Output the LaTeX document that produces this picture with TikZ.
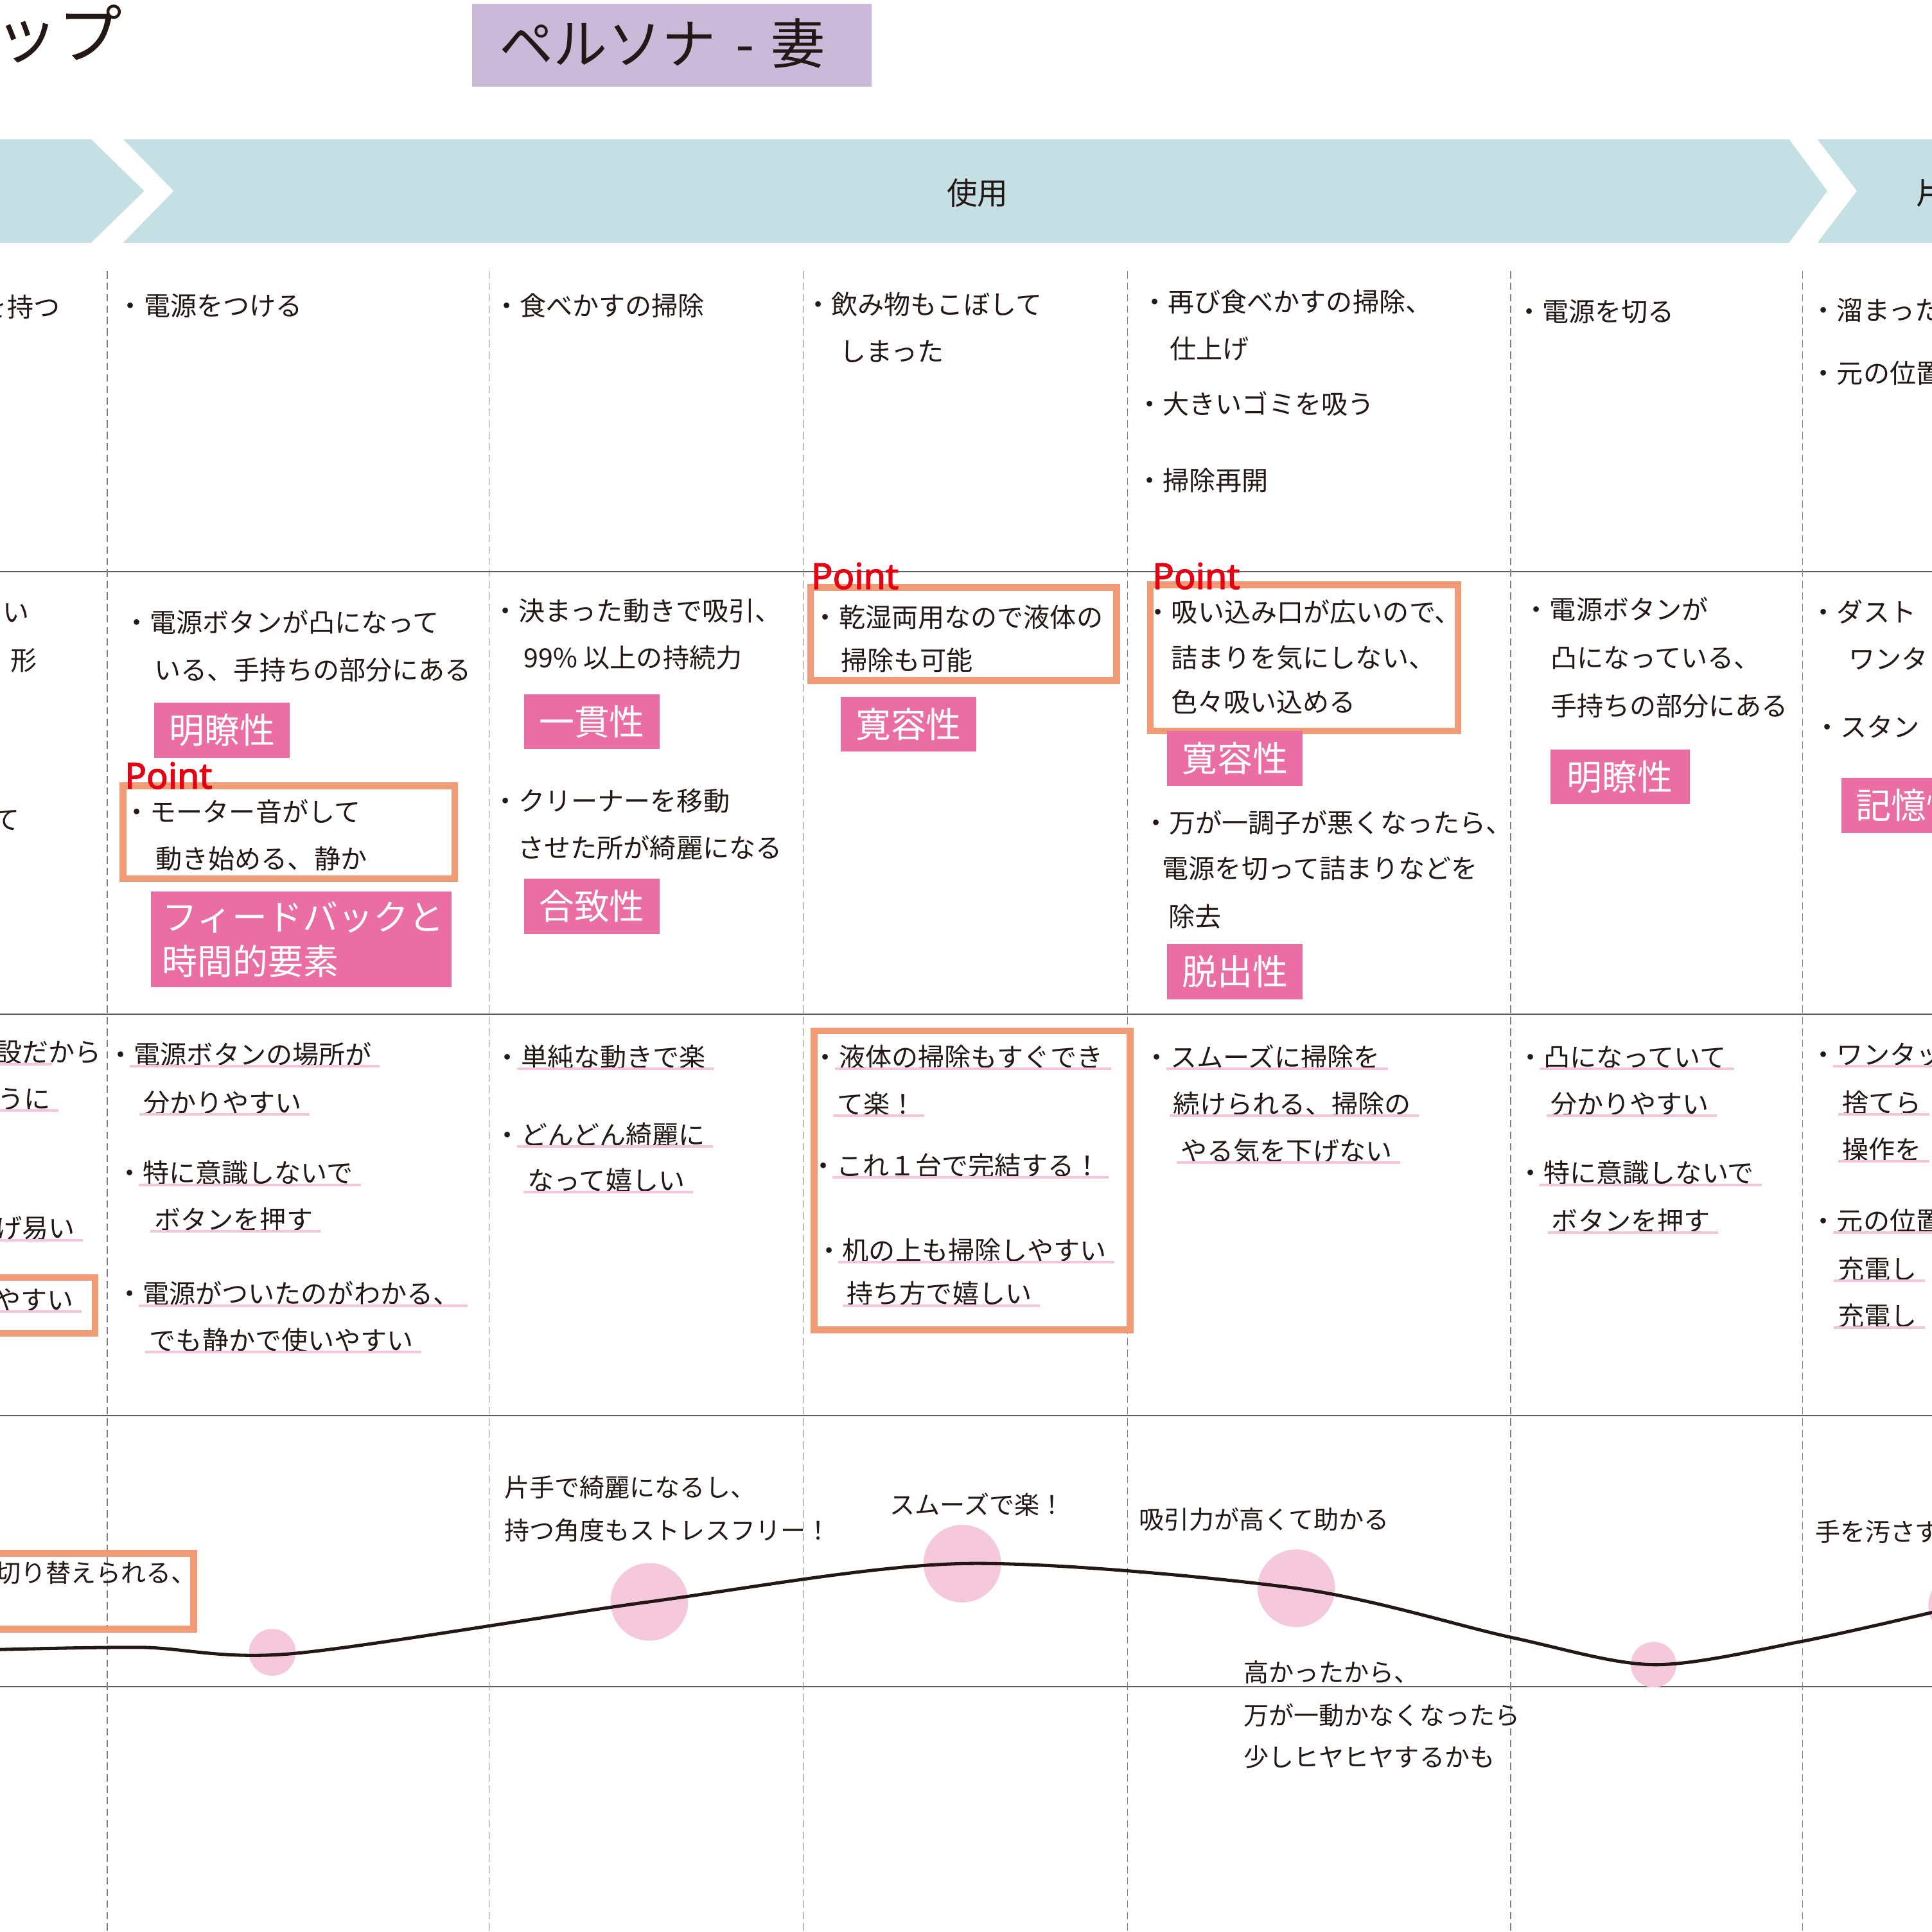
\documentclass[tikz,border=0pt]{standalone}
\usepackage{fontspec}
\setmainfont{Noto Sans CJK JP}
\newfontfamily\pointfamily{Noto Sans}[FakeBold=2.4]
\definecolor{ink}{RGB}{35,24,21}
\definecolor{bandblue}{RGB}{197,224,229}
\definecolor{personapurple}{RGB}{203,185,218}
\definecolor{tagpink}{RGB}{234,110,163}
\definecolor{ptorange}{RGB}{241,155,118}
\definecolor{ptred}{RGB}{230,0,18}
\definecolor{ulpink}{RGB}{246,196,218}
\definecolor{bubblepink}{RGB}{245,200,220}
\definecolor{gridgray}{RGB}{95,95,95}
\newcommand{\bodyfont}{\fontsize{12.2}{14}\selectfont}
\newcommand{\notefont}{\fontsize{11.6}{14}\selectfont}
\newcommand{\tagfont}{\fontsize{16.3}{20.5}\selectfont}
\newcommand{\titlefont}{\fontsize{25}{30}\selectfont}
\newcommand{\mapfont}{\fontsize{29.6}{34}\selectfont}
\newcommand{\bandfont}{\fontsize{14.2}{17}\selectfont}
\newcommand{\ptfont}{\pointfamily\fontsize{16.5}{20}\selectfont}
\tikzset{
  txt/.style={anchor=base west, inner sep=0pt, font=\bodyfont, text=ink},
  note/.style={txt, font=\notefont},
  uline/.style={draw=ulpink, line width=1.2pt},
  ul/.style={txt, append after command={([shift={(-0.06cm,-0.03cm)}]\tikzlastnode.base west) edge[uline] ([shift={(0.12cm,-0.03cm)}]\tikzlastnode.base east)}},
  ulb/.style={txt, append after command={([shift={(0.37cm,-0.03cm)}]\tikzlastnode.base west) edge[uline] ([shift={(0.12cm,-0.03cm)}]\tikzlastnode.base east)}},
  tag/.style={fill=tagpink, text=white, font=\tagfont, inner sep=0pt, minimum width=2.2cm, minimum height=0.89cm, anchor=north west},
  ptbox/.style={draw=ptorange, line width=3.1pt, anchor=north west, inner sep=0pt},
  ptlabel/.style={anchor=base west, inner sep=0pt, font=\ptfont, text=ptred},
  bubble/.style={circle, fill=bubblepink, inner sep=0pt},
  colline/.style={draw=gridgray!80, line width=0.4pt, dash pattern=on 3.4pt off 1.9pt},
  rowline/.style={draw=gridgray, line width=0.6pt},
  band/.style={fill=bandblue},
  mood/.style={draw=ink, line width=1.5pt},
}

\begin{document}
\begin{tikzpicture}[x=0.02cm, y=-0.02cm]
  \useasboundingbox (0,0) rectangle (1568,1568);
  \clip (0,0) rectangle (1568,1568);

  % title and persona
  \node[txt, font=\mapfont] (maptitle) at (-5,47) {ップ};
  \node[fill=personapurple, minimum width=6.48cm, minimum height=1.34cm, anchor=north west, inner sep=0pt] (persona) at (383,3) {};
  \node[txt, font=\titlefont] (personatext) at (405,52) {ペルソナ\hspace{0.12cm} - \hspace{0.08cm}妻};

  % phase band
  \fill[band] (-10,113) -- (74,113) -- (117,155) -- (74,197) -- (-10,197) -- cycle;
  \fill[band] (100,113) -- (1452,113) -- (1483,155) -- (1452,197) -- (100,197) -- (141,155) -- cycle;
  \fill[band] (1475,113) -- (1600,113) -- (1600,197) -- (1475,197) -- (1507,155) -- cycle;
  \node[txt, font=\bandfont] (phaseuse) at (768,166) {使用};
  \node[txt, font=\bandfont] (phaseend) at (1555,166) {片};

  % grid
  \foreach \y in {464,823,1149,1369}
    \draw[rowline] (-10,\y) -- (1600,\y);
  \foreach \x in {87,397,652,915,1226,1463}
    \draw[colline] (\x,220) -- (\x,1580);

  % row 1: actions
  \node[txt] (acta) at (-16,257) {を持つ};
  \node[txt] (actb) at (95,256) {・電源をつける};
  \node[txt] (actc) at (400,256) {・食べかすの掃除};
  \node[txt] (actd) at (653,255) {・飲み物もこぼして};
  \node[txt] (actd2) at (681,293) {しまった};
  \node[txt] (acte) at (926,253) {・再び食べかすの掃除、};
  \node[txt] (acte2) at (949,291) {仕上げ};
  \node[txt] (acte3) at (922,336) {・大きいゴミを吸う};
  \node[txt] (acte4) at (922,398) {・掃除再開};
  \node[txt] (actf) at (1230,261) {・電源を切る};
  \node[txt] (actg) at (1469,260) {・溜まった};
  \node[txt] (actg2) at (1469,311) {・元の位置};

  % row 2: points
  \node[ptbox, minimum width=5.39cm, minimum height=1.51cm] (pboxb) at (97,635) {};
  \node[ptbox, minimum width=4.97cm, minimum height=1.51cm] (pboxd) at (655,474) {};
  \node[ptbox, minimum width=4.99cm, minimum height=2.37cm] (pboxe) at (931,472) {};

  \node[txt] (pta) at (2,505) {い};
  \node[txt] (pta2) at (8,544) {形};
  \node[txt] (pta3) at (-6,673) {て};
  \node[txt] (ptb) at (100,513) {・電源ボタンが凸になって};
  \node[txt] (ptb2) at (125,552) {いる、手持ちの部分にある};
  \node[txt] (ptb3) at (100,667) {・モーター音がして};
  \node[txt] (ptb4) at (126,705) {動き始める、静か};
  \node[txt] (ptc) at (399,504) {・決まった動きで吸引、};
  \node[txt] (ptc2) at (425,542) {99\% 以上の持続力};
  \node[txt] (ptc3) at (399,658) {・クリーナーを移動};
  \node[txt] (ptc4) at (420,696) {させた所が綺麗になる};
  \node[txt] (ptd) at (659,509) {・乾湿両用なので液体の};
  \node[txt] (ptd2) at (682,544) {掃除も可能};
  \node[txt] (pte) at (929,505) {・吸い込み口が広いので、};
  \node[txt] (pte2) at (950,542) {詰まりを気にしない、};
  \node[txt] (pte3) at (950,578) {色々吸い込める};
  \node[txt] (pte4) at (927,676) {・万が一調子が悪くなったら、};
  \node[txt] (pte5) at (943,713) {電源を切って詰まりなどを};
  \node[txt] (pte6) at (948,752) {除去};
  \node[txt] (ptf) at (1236,503) {・電源ボタンが};
  \node[txt] (ptf2) at (1258,542) {凸になっている、};
  \node[txt] (ptf3) at (1258,581) {手持ちの部分にある};
  \node[txt] (ptg) at (1469,505) {・ダスト};
  \node[txt] (ptg2) at (1500,543) {ワンタ};
  \node[txt] (ptg3) at (1472,598) {・スタン};

  \node[tag] (tagb) at (125,570) {明瞭性};
  \node[tag, minimum width=4.88cm, minimum height=1.56cm, text width=4.5cm, align=left] (tagb2) at (122,723) {フィードバックと\\時間的要素};
  \node[tag] (tagc) at (425,563) {一貫性};
  \node[tag] (tagc2) at (425,713) {合致性};
  \node[tag] (tagd) at (682,565) {寛容性};
  \node[tag] (tage) at (947,593) {寛容性};
  \node[tag] (tage2) at (947,766) {脱出性};
  \node[tag, minimum width=2.26cm] (tagf) at (1258,608) {明瞭性};
  \node[tag] (tagg) at (1494,631) {記憶性};

  \node[ptlabel] (pointb) at (101,640) {Point};
  \node[ptlabel] (pointd) at (658,478) {Point};
  \node[ptlabel] (pointe) at (935,478) {Point};

  % row 3: thoughts
  \node[ptbox, minimum width=1.89cm, minimum height=0.91cm] (pboxa3) at (-20,1034) {};
  \node[ptbox, minimum width=5.13cm, minimum height=4.85cm] (pboxd3) at (658,834) {};

  \node[txt] (thta) at (-4,862) {設だから};
  \draw[uline] ([yshift=-0.03cm]thta.base west) -- ++(46,0);
  \node[ul] (thta2) at (-2,900) {うに};
  \node[ul] (thta3) at (-4,1005) {げ易い};
  \node[ul] (thta4) at (-5,1063) {やすい};
  \node[ulb] (thtb) at (87,864) {・電源ボタンの場所が};
  \node[ul] (thtb2) at (116,903) {分かりやすい};
  \node[ulb] (thtb3) at (94,960) {・特に意識しないで};
  \node[ul] (thtb4) at (125,998) {ボタンを押す};
  \node[ulb] (thtb5) at (94,1058) {・電源がついたのがわかる、};
  \node[ul] (thtb6) at (121,1096) {でも静かで使いやすい};
  \node[ulb] (thtc) at (401,866) {・単純な動きで楽};
  \node[ulb] (thtc2) at (401,929) {・どんどん綺麗に};
  \node[ul] (thtc3) at (428,966) {なって嬉しい};
  \node[ulb] (thtd) at (659,866) {・液体の掃除もすぐでき};
  \node[ul] (thtd2) at (679,904) {て楽！};
  \node[ulb] (thtd3) at (657,954) {・これ１台で完結する！};
  \node[ulb] (thtd4) at (662,1023) {・机の上も掃除しやすい};
  \node[ul] (thtd5) at (687,1058) {持ち方で嬉しい};
  \node[ulb] (thte) at (928,866) {・スムーズに掃除を};
  \node[ul] (thte2) at (952,904) {続けられる、掃除の};
  \node[ul] (thte3) at (958,942) {やる気を下げない};
  \node[ulb] (thtf) at (1231,866) {・凸になっていて};
  \node[ul] (thtf2) at (1258,904) {分かりやすい};
  \node[ulb] (thtf3) at (1231,960) {・特に意識しないで};
  \node[ul] (thtf4) at (1259,999) {ボタンを押す};
  \node[ulb] (thtg) at (1469,864) {・ワンタッ};
  \node[ul] (thtg2) at (1495,903) {捨てら};
  \node[ul] (thtg3) at (1495,941) {操作を};
  \node[ulb] (thtg4) at (1469,999) {・元の位置};
  \node[ul] (thtg5) at (1491,1038) {充電し};
  \node[ul] (thtg6) at (1491,1076) {充電し};

  % row 4: emotion curve
  \node[ptbox, minimum width=3.49cm, minimum height=1.23cm] (pboxa4) at (-20,1258) {};
  \node[note] (emoa) at (-4,1284) {切り替えられる、};
  \node[note] (emoc) at (409,1215) {片手で綺麗になるし、};
  \node[note] (emoc2) at (409,1250) {持つ角度もストレスフリー！};
  \node[note] (emod) at (722,1229) {スムーズで楽！};
  \node[note] (emoe) at (924,1241) {吸引力が高くて助かる};
  \node[note] (emoe2) at (1009,1365) {高かったから、};
  \node[note] (emoe3) at (1009,1400) {万が一動かなくなったら};
  \node[note] (emoe4) at (1009,1434) {少しヒヤヒヤするかも};
  \node[note] (emog) at (1473,1251) {手を汚さず};

  \node[bubble, minimum size=0.76cm] (moodb) at (221,1341) {};
  \node[bubble, minimum size=1.26cm] (moodc) at (527,1300) {};
  \node[bubble, minimum size=1.26cm] (moodd) at (781,1269) {};
  \node[bubble, minimum size=1.26cm] (moode) at (1052,1289) {};
  \node[bubble, minimum size=0.74cm] (moodf) at (1342,1351) {};
  \node[bubble, minimum size=1.08cm] (moodg) at (1592,1303) {};
  \coordinate (moodstart) at (-10,1339);
  \coordinate (moodflat) at (115,1337);
  \coordinate (mooddip) at (238,1342);
  \coordinate (moodfall) at (1227,1329);
  \coordinate (moodrise) at (1463,1332);

  \draw[mood] plot[smooth, tension=0.5] coordinates {(moodstart) (moodflat) (mooddip) (moodc) (moodd) (moode) (moodfall) (moodf) (moodrise) (moodg)};
\end{tikzpicture}
\end{document}
